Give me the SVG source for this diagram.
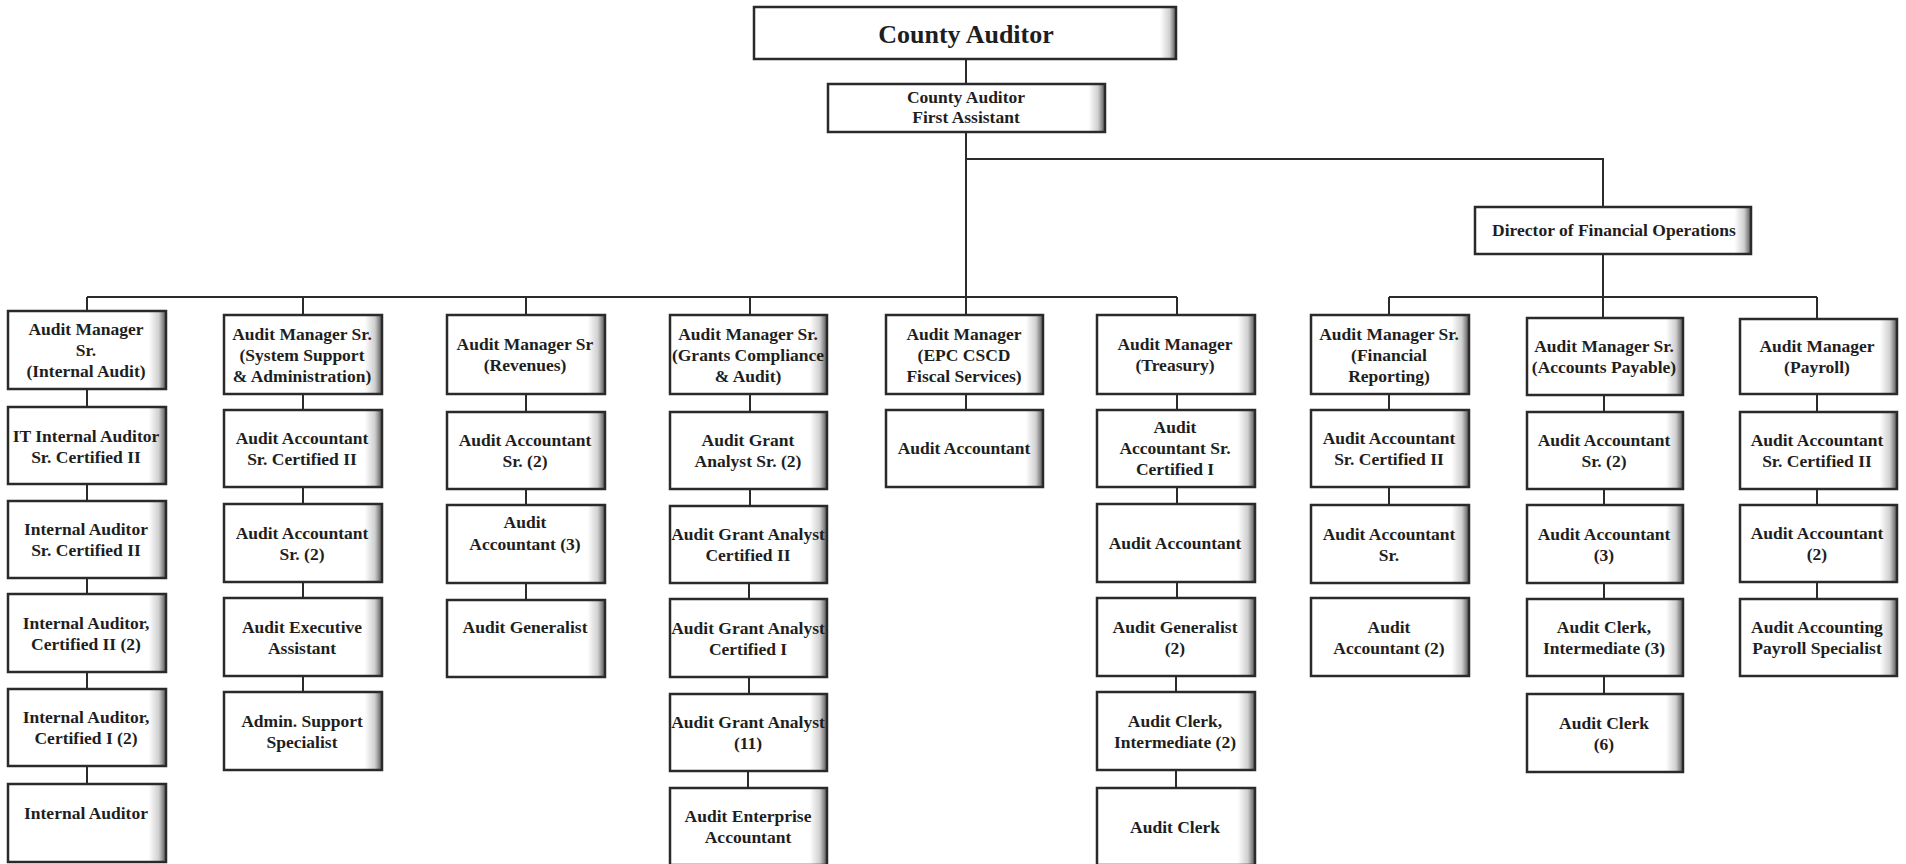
<svg xmlns="http://www.w3.org/2000/svg" width="1906" height="864" viewBox="0 0 1906 864">
<style>
.b{stroke:#2a2a2a;stroke-width:2.5;fill:url(#sh)}
.bw{stroke:#2a2a2a;stroke-width:2.5;fill:url(#shw)}
.bm{stroke:#2a2a2a;stroke-width:2.5;fill:url(#shm)}
.bt{fill:url(#bot);stroke:none}
text{font-family:"Liberation Serif","Times New Roman",serif;font-weight:bold;font-size:17.5px;fill:#1e1e1e;text-anchor:middle}
.big{font-size:26px}
.c{fill:none;stroke:#2b2b2b;stroke-width:2}
</style>
<defs>
<linearGradient id="sh" x1="0" y1="0" x2="1" y2="0">
<stop offset="0" stop-color="#fff"/><stop offset="0.89" stop-color="#fff"/><stop offset="0.955" stop-color="#cfcfcf"/><stop offset="1" stop-color="#555"/>
</linearGradient>
<linearGradient id="shw" x1="0" y1="0" x2="1" y2="0">
<stop offset="0" stop-color="#fff"/><stop offset="0.962" stop-color="#fff"/><stop offset="0.985" stop-color="#cfcfcf"/><stop offset="1" stop-color="#555"/>
</linearGradient>
<linearGradient id="shm" x1="0" y1="0" x2="1" y2="0">
<stop offset="0" stop-color="#fff"/><stop offset="0.94" stop-color="#fff"/><stop offset="0.975" stop-color="#cfcfcf"/><stop offset="1" stop-color="#555"/>
</linearGradient>
<linearGradient id="bot" x1="0" y1="0" x2="0" y2="1">
<stop offset="0" stop-color="#000" stop-opacity="0"/><stop offset="0.9" stop-color="#000" stop-opacity="0"/><stop offset="1" stop-color="#000" stop-opacity="0.15"/>
</linearGradient>
</defs>
<rect width="1906" height="864" fill="#fff"/>

<g id="connectors">
<path class="c" d="M966 60V83M966 133V314M87 297H1177M87 297V310M303 297V314M526 297V314M750 297V314M1177 297V314M966 159H1603V206M1603 255V297M1389 297H1817M1389 297V314M1603 297V317M1817 297V318"/>
<path class="c" d="M87 390V406M87 485V500M87 579V593M87 673V688M87 767V783M303 395V409M303 488V503M303 583V597M303 677V691M526 395V411M526 490V504M526 584V599M750 395V411M750 490V505M749 584V598M749 678V693M748 772V787M966 395V409M1177 395V409M1177 488V503M1177 583V597M1176 677V691M1176 771V787M1389 395V409M1389 488V504M1604 396V411M1604 490V504M1604 584V598M1604 677V693M1817 395V411M1817 490V504M1817 583V598"/>
</g>

<g id="county-auditor"><rect class="bw" x="754" y="7" width="422" height="52"/><text class="big" x="966" y="43">County Auditor</text></g>
<g id="first-assistant"><rect class="bm" x="828" y="84" width="277" height="48"/><text x="966" y="103">County Auditor</text><text x="966" y="123">First Assistant</text></g>
<g id="director-financial-operations"><rect class="bm" x="1475" y="207" width="276" height="47"/><text x="1614" y="236">Director of Financial Operations</text></g>

<!-- Column 1 -->
<g id="c1-r0"><rect class="b" x="8" y="311" width="158" height="78"/><text x="86" y="335">Audit Manager</text><text x="86" y="356">Sr.</text><text x="86" y="377">(Internal Audit)</text></g>
<g id="c1-r1"><rect class="b" x="8" y="407" width="158" height="77"/><text x="86" y="442">IT Internal Auditor</text><text x="86" y="463">Sr. Certified II</text></g>
<g id="c1-r2"><rect class="b" x="8" y="501" width="158" height="77"/><text x="86" y="535">Internal Auditor</text><text x="86" y="556">Sr. Certified II</text></g>
<g id="c1-r3"><rect class="b" x="8" y="594" width="158" height="78"/><text x="86" y="629">Internal Auditor,</text><text x="86" y="650">Certified II (2)</text></g>
<g id="c1-r4"><rect class="b" x="8" y="689" width="158" height="77"/><text x="86" y="723">Internal Auditor,</text><text x="86" y="744">Certified I (2)</text></g>
<g id="c1-r5"><rect class="b" x="8" y="784" width="158" height="78"/><text x="86" y="819">Internal Auditor</text></g>

<!-- Column 2 -->
<g id="c2-r0"><rect class="b" x="224" y="315" width="158" height="79"/><text x="302" y="340">Audit Manager Sr.</text><text x="302" y="361">(System Support</text><text x="302" y="382">&amp; Administration)</text></g>
<g id="c2-r1"><rect class="b" x="224" y="410" width="158" height="77"/><text x="302" y="444">Audit Accountant</text><text x="302" y="465">Sr. Certified II</text></g>
<g id="c2-r2"><rect class="b" x="224" y="504" width="158" height="78"/><text x="302" y="539">Audit Accountant</text><text x="302" y="560">Sr. (2)</text></g>
<g id="c2-r3"><rect class="b" x="224" y="598" width="158" height="78"/><text x="302" y="633">Audit Executive</text><text x="302" y="654">Assistant</text></g>
<g id="c2-r4"><rect class="b" x="224" y="692" width="158" height="78"/><text x="302" y="727">Admin. Support</text><text x="302" y="748">Specialist</text></g>

<!-- Column 3 -->
<g id="c3-r0"><rect class="b" x="447" y="315" width="158" height="79"/><text x="525" y="350">Audit Manager Sr</text><text x="525" y="371">(Revenues)</text></g>
<g id="c3-r1"><rect class="b" x="447" y="412" width="158" height="77"/><text x="525" y="446">Audit Accountant</text><text x="525" y="467">Sr. (2)</text></g>
<g id="c3-r2"><rect class="b" x="447" y="505" width="158" height="78"/><text x="525" y="528">Audit</text><text x="525" y="550">Accountant (3)</text></g>
<g id="c3-r3"><rect class="b" x="447" y="600" width="158" height="77"/><text x="525" y="633">Audit Generalist</text></g>

<!-- Column 4 -->
<g id="c4-r0"><rect class="b" x="670" y="315" width="157" height="79"/><text x="748" y="340">Audit Manager Sr.</text><text x="748" y="361">(Grants Compliance</text><text x="748" y="382">&amp; Audit)</text></g>
<g id="c4-r1"><rect class="b" x="670" y="412" width="157" height="77"/><text x="748" y="446">Audit Grant</text><text x="748" y="467">Analyst Sr. (2)</text></g>
<g id="c4-r2"><rect class="b" x="670" y="506" width="157" height="77"/><text x="748" y="540">Audit Grant Analyst</text><text x="748" y="561">Certified II</text></g>
<g id="c4-r3"><rect class="b" x="670" y="599" width="157" height="78"/><text x="748" y="634">Audit Grant Analyst</text><text x="748" y="655">Certified I</text></g>
<g id="c4-r4"><rect class="b" x="670" y="694" width="157" height="77"/><text x="748" y="728">Audit Grant Analyst</text><text x="748" y="749">(11)</text></g>
<g id="c4-r5"><rect class="b" x="670" y="788" width="157" height="77"/><text x="748" y="822">Audit Enterprise</text><text x="748" y="843">Accountant</text></g>

<!-- Column 5 -->
<g id="c5-r0"><rect class="b" x="886" y="315" width="157" height="79"/><text x="964" y="340">Audit Manager</text><text x="964" y="361">(EPC CSCD</text><text x="964" y="382">Fiscal Services)</text></g>
<g id="c5-r1"><rect class="b" x="886" y="410" width="157" height="77"/><text x="964" y="454">Audit Accountant</text></g>

<!-- Column 6 -->
<g id="c6-r0"><rect class="b" x="1097" y="315" width="158" height="79"/><text x="1175" y="350">Audit Manager</text><text x="1175" y="371">(Treasury)</text></g>
<g id="c6-r1"><rect class="b" x="1097" y="410" width="158" height="77"/><text x="1175" y="433">Audit</text><text x="1175" y="454">Accountant Sr.</text><text x="1175" y="475">Certified I</text></g>
<g id="c6-r2"><rect class="b" x="1097" y="504" width="158" height="78"/><text x="1175" y="549">Audit Accountant</text></g>
<g id="c6-r3"><rect class="b" x="1097" y="598" width="158" height="78"/><text x="1175" y="633">Audit Generalist</text><text x="1175" y="654">(2)</text></g>
<g id="c6-r4"><rect class="b" x="1097" y="692" width="158" height="78"/><text x="1175" y="727">Audit Clerk,</text><text x="1175" y="748">Intermediate (2)</text></g>
<g id="c6-r5"><rect class="b" x="1097" y="788" width="158" height="77"/><text x="1175" y="833">Audit Clerk</text></g>

<!-- Column 7 -->
<g id="c7-r0"><rect class="b" x="1311" y="315" width="158" height="79"/><text x="1389" y="340">Audit Manager Sr.</text><text x="1389" y="361">(Financial</text><text x="1389" y="382">Reporting)</text></g>
<g id="c7-r1"><rect class="b" x="1311" y="410" width="158" height="77"/><text x="1389" y="444">Audit Accountant</text><text x="1389" y="465">Sr. Certified II</text></g>
<g id="c7-r2"><rect class="b" x="1311" y="505" width="158" height="78"/><text x="1389" y="540">Audit Accountant</text><text x="1389" y="561">Sr.</text></g>
<g id="c7-r3"><rect class="b" x="1311" y="598" width="158" height="78"/><text x="1389" y="633">Audit</text><text x="1389" y="654">Accountant (2)</text></g>

<!-- Column 8 -->
<g id="c8-r0"><rect class="b" x="1527" y="318" width="156" height="77"/><text x="1604" y="352">Audit Manager Sr.</text><text x="1604" y="373">(Accounts Payable)</text></g>
<g id="c8-r1"><rect class="b" x="1527" y="412" width="156" height="77"/><text x="1604" y="446">Audit Accountant</text><text x="1604" y="467">Sr. (2)</text></g>
<g id="c8-r2"><rect class="b" x="1527" y="505" width="156" height="78"/><text x="1604" y="540">Audit Accountant</text><text x="1604" y="561">(3)</text></g>
<g id="c8-r3"><rect class="b" x="1527" y="599" width="156" height="77"/><text x="1604" y="633">Audit Clerk,</text><text x="1604" y="654">Intermediate (3)</text></g>
<g id="c8-r4"><rect class="b" x="1527" y="694" width="156" height="78"/><text x="1604" y="729">Audit Clerk</text><text x="1604" y="750">(6)</text></g>

<!-- Column 9 -->
<g id="c9-r0"><rect class="b" x="1740" y="319" width="157" height="75"/><text x="1817" y="352">Audit Manager</text><text x="1817" y="373">(Payroll)</text></g>
<g id="c9-r1"><rect class="b" x="1740" y="412" width="157" height="77"/><text x="1817" y="446">Audit Accountant</text><text x="1817" y="467">Sr. Certified II</text></g>
<g id="c9-r2"><rect class="b" x="1740" y="505" width="157" height="77"/><text x="1817" y="539">Audit Accountant</text><text x="1817" y="560">(2)</text></g>
<g id="c9-r3"><rect class="b" x="1740" y="599" width="157" height="77"/><text x="1817" y="633">Audit Accounting</text><text x="1817" y="654">Payroll Specialist</text></g>
</svg>
